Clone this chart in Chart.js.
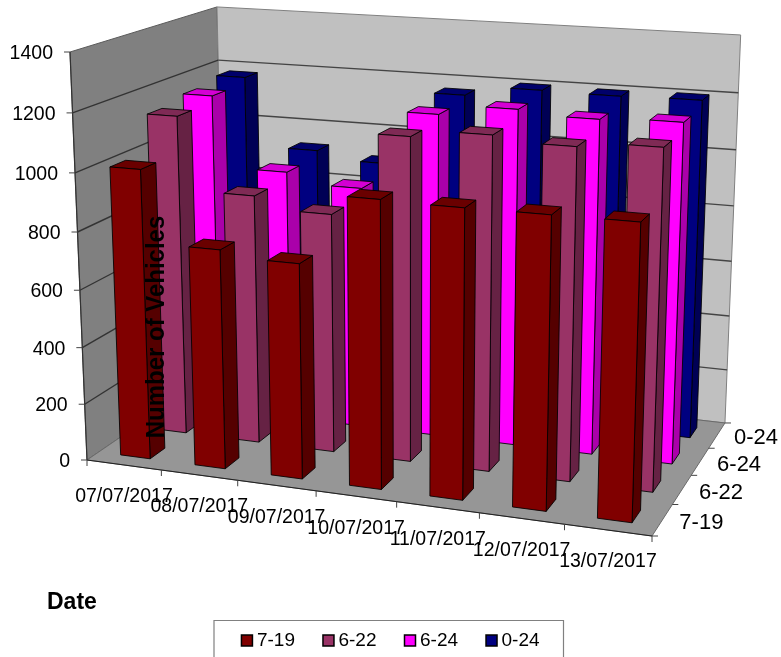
<!DOCTYPE html>
<html>
<head>
<meta charset="utf-8">
<title>Number of Vehicles</title>
<script src="https://cdn.jsdelivr.net/npm/chart.js@4"></script>
<style>
html, body { margin: 0; padding: 0; background: #fff; overflow: hidden; }
canvas { display: block; }
</style>
</head>
<body>
<canvas id="myChart" width="781" height="657"></canvas>
<script>
const fechas = ['07/07/2017', '08/07/2017', '09/07/2017', '10/07/2017', '11/07/2017', '12/07/2017', '13/07/2017']
const franjas = ['7-19', '6-22', '6-24', '0-24']

const valores719 = [1009, 761, 740, 976, 972, 973, 974]
const valores622 = [1136, 881, 840, 1125, 1150, 1132, 1150]
const valores624 = [1158, 905, 869, 1148, 1184, 1169, 1178]
const valores024 = [1178, 927, 899, 1166, 1201, 1198, 1202]

const colorFrente = ['#800000', '#993366', '#ff00ff', '#000080']
const colorLado = ['#550000', '#662244', '#aa00aa', '#000055']
const colorTapa = ['#6a0000', '#7f2a55', '#d400d4', '#00006a']

const fuente = '"Liberation Sans", Arial, sans-serif'

// esquinas de la caja 3D en pantalla y factores de perspectiva
const p000 = { x: 87, y: 460 }
const p100 = { x: 652, y: 536 }
const p010 = { x: 70, y: 52 }
const p001 = { x: 225.4, y: 365.5 }
const persU = -0.0905
const persV = -0.05
const persD = 0.1442

const proyecta = (u, v, d) => {
    const w = 1 + persU * u + persV * v + persD * d
    const eje = (k) => {
        const nu = p100[k] * (1 + persU) - p000[k]
        const nv = p010[k] * (1 + persV) - p000[k]
        const nd = p001[k] * (1 + persD) - p000[k]
        return (p000[k] + nu * u + nv * v + nd * d) / w
    }
    return { x: eje('x'), y: eje('y') }
}

const poligono = (ctx, puntos, relleno, borde, grosor) => {
    ctx.beginPath()
    puntos.forEach((p, i) => i ? ctx.lineTo(p.x, p.y) : ctx.moveTo(p.x, p.y))
    ctx.closePath()
    if (relleno) {
        ctx.fillStyle = relleno
        ctx.fill()
    }
    if (borde) {
        ctx.strokeStyle = borde
        ctx.lineWidth = grosor || 1
        ctx.stroke()
    }
}

const linea = (ctx, a, b, color, grosor) => {
    ctx.beginPath()
    ctx.moveTo(a.x, a.y)
    ctx.lineTo(b.x, b.y)
    ctx.strokeStyle = color
    ctx.lineWidth = grosor
    ctx.stroke()
}

// posicion 0..1 dentro de un eje de categorias
const relativa = (escala, i) => (escala.getPixelForValue(i) - escala.left) / escala.width
// posicion 0..1 del valor en el eje lineal
const altura = (escala, valor) => (escala.bottom - escala.getPixelForValue(valor)) / escala.height

const dibujaCaja = (chart) => {
    const ctx = chart.ctx
    const yEje = chart.scales.y

    poligono(ctx, [proyecta(0, 0, 0), proyecta(0, 1, 0), proyecta(0, 1, 1), proyecta(0, 0, 1)], '#808080', '#5a5a5a')
    poligono(ctx, [proyecta(0, 0, 1), proyecta(0, 1, 1), proyecta(1, 1, 1), proyecta(1, 0, 1)], '#c0c0c0', '#808080')
    poligono(ctx, [proyecta(0, 0, 0), proyecta(1, 0, 0), proyecta(1, 0, 1), proyecta(0, 0, 1)], '#969696', '#6a6a6a')

    yEje.ticks.forEach((t) => {
        const v = altura(yEje, t.value)
        if (t.value > 0 && t.value < yEje.max) {
            linea(ctx, proyecta(0, v, 0), proyecta(0, v, 1), '#333', 1.4)
            linea(ctx, proyecta(0, v, 1), proyecta(1, v, 1), '#444', 1.4)
        }
    })
    linea(ctx, proyecta(0, 0, 0), proyecta(1, 0, 0), '#222', 1.2)
    linea(ctx, proyecta(0, 0, 0), proyecta(0, 1, 0), '#333', 1.2)
}

const dibujaBarras = (chart) => {
    const ctx = chart.ctx
    const { x, y, fondo } = chart.scales
    const anchoU = 0.4 / fechas.length / 2
    const anchoD = 0.4 / franjas.length / 2
    const trazo = 'rgba(0,0,0,0.85)'

    for (let s = chart.data.datasets.length - 1; s >= 0; s--) {
        const dc = relativa(fondo, s)
        const d0 = dc - anchoD
        const d1 = dc + anchoD
        chart.data.datasets[s].data.forEach((valor, i) => {
            const uc = relativa(x, i)
            const u0 = uc - anchoU
            const u1 = uc + anchoU
            const v = altura(y, valor)
            poligono(ctx, [proyecta(u1, 0, d0), proyecta(u1, v, d0), proyecta(u1, v, d1), proyecta(u1, 0, d1)], colorLado[s], trazo)
            poligono(ctx, [proyecta(u0, v, d0), proyecta(u1, v, d0), proyecta(u1, v, d1), proyecta(u0, v, d1)], colorTapa[s], trazo)
            poligono(ctx, [proyecta(u0, 0, d0), proyecta(u1, 0, d0), proyecta(u1, v, d0), proyecta(u0, v, d0)], colorFrente[s], trazo)
        })
    }
}

const dibujaEjes = (chart) => {
    const ctx = chart.ctx
    const { x, y, fondo } = chart.scales
    ctx.font = '19.5px ' + fuente

    // valores
    ctx.textAlign = 'right'
    ctx.textBaseline = 'middle'
    y.ticks.forEach((t) => {
        const p = proyecta(0, altura(y, t.value), 0)
        linea(ctx, p, { x: p.x - 6, y: p.y }, '#444', 1)
        ctx.fillStyle = '#000'
        ctx.fillText(t.label, p.x - 17, p.y + 1.5)
    })

    // fechas
    fechas.forEach((_, i) => {
        const b = proyecta((i + 1) / fechas.length, 0, 0)
        linea(ctx, b, { x: b.x, y: b.y + 6 }, '#444', 1)
    })
    linea(ctx, proyecta(0, 0, 0), { x: p000.x, y: p000.y + 6 }, '#444', 1)
    ctx.textAlign = 'center'
    ctx.fillStyle = '#000'
    x.getLabels().forEach((texto, i) => {
        const p = proyecta(relativa(x, i), 0, 0)
        ctx.fillText(texto, p.x, p.y + 32)
    })

    // franjas
    franjas.forEach((_, i) => {
        const b = proyecta(1, 0, (i + 1) / franjas.length)
        linea(ctx, b, { x: b.x + 6, y: b.y }, '#444', 1)
    })
    linea(ctx, proyecta(1, 0, 0), { x: p100.x + 6, y: p100.y }, '#444', 1)
    ctx.font = '22px ' + fuente
    ctx.textAlign = 'left'
    ctx.fillStyle = '#000'
    fondo.getLabels().forEach((texto, i) => {
        const p = proyecta(1, 0, relativa(fondo, i))
        ctx.fillText(texto, p.x + 17, p.y + 3)
    })

    // titulos
    ctx.font = 'bold 23px ' + fuente
    ctx.textAlign = 'left'
    ctx.fillText('Date', 47, 603)

    ctx.save()
    ctx.translate(156.5, 327)
    ctx.rotate(-Math.PI / 2)
    ctx.scale(0.905, 1)
    ctx.font = 'bold 26.5px ' + fuente
    ctx.textAlign = 'center'
    ctx.fillText('Number of Vehicles', 0, 0)
    ctx.restore()
}

const barras3d = {
    id: 'barras3d',
    beforeDatasetsDraw(chart) {
        dibujaCaja(chart)
        dibujaBarras(chart)
        dibujaEjes(chart)
        return false
    },
    afterDraw(chart) {
        // marco de la leyenda, cortado abajo como en el original
        const ctx = chart.ctx
        ctx.beginPath()
        ctx.moveTo(214, 657)
        ctx.lineTo(214, 620.5)
        ctx.lineTo(563.5, 620.5)
        ctx.lineTo(563.5, 657)
        ctx.strokeStyle = '#808080'
        ctx.lineWidth = 1.2
        ctx.stroke()
    }
}

const series = [valores719, valores622, valores624, valores024]

new Chart(document.getElementById('myChart'), {
    type: 'bar',
    data: {
        labels: fechas,
        datasets: series.map((data, s) => ({
            label: franjas[s],
            data,
            backgroundColor: colorFrente[s],
            borderColor: '#000',
            borderWidth: 1.5
        }))
    },
    options: {
        responsive: false,
        animation: false,
        layout: { padding: { left: 5, bottom: -3 } },
        scales: {
            x: { type: 'category', display: false, offset: true },
            y: { type: 'linear', display: false, min: 0, max: 1400, ticks: { stepSize: 200, callback: (v) => String(v) } },
            fondo: { type: 'category', axis: 'x', labels: franjas, display: false, offset: true }
        },
        plugins: {
            tooltip: { enabled: false },
            title: { display: false },
            legend: {
                display: true,
                position: 'bottom',
                labels: {
                    color: '#000',
                    font: { family: fuente, size: 19 },
                    usePointStyle: true,
                    pointStyle: 'rect',
                    boxWidth: 1,
                    boxHeight: 11,
                    padding: 33
                }
            }
        }
    },
    plugins: [barras3d]
})
</script>
</body>
</html>
